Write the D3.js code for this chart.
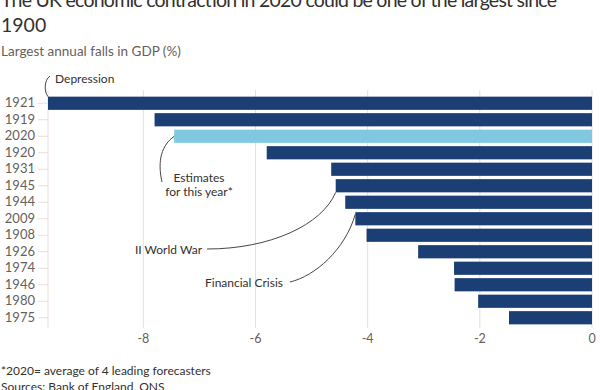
<!DOCTYPE html>
<html>
<head>
<meta charset="utf-8">
<script src="https://cdn.jsdelivr.net/npm/d3@7"></script>
<style>
html,body{margin:0;padding:0;background:#fff;}
svg{display:block;}
text{font-family:Lato,"Open Sans",sans-serif;}
</style>
</head>
<body>
<svg id="chart" width="600" height="390"></svg>
<script>
const years = ["1921","1919","2020","1920","1931","1945","1944","2009","1908","1926","1974","1946","1980","1975"];
const falls = [-9.7,-7.8,-7.45,-5.8,-4.65,-4.57,-4.4,-4.22,-4.02,-3.1,-2.46,-2.45,-2.03,-1.48];
const highlight = ["2020"];
const xTicks = [-8,-6,-4,-2,0];
const title = ["The UK economic contraction in 2020 could be one of the largest since","1900"];
const subtitle = "Largest annual falls in GDP (%)";
const notes = ["*2020= average of 4 leading forecasters","Sources: Bank of England, ONS"];

const svg = d3.select("#chart");
const x = d3.scaleLinear().domain([-9.7,0]).range([48,592]);
const y = d3.scaleBand().domain(years).range([95,326]).paddingInner(0.2).paddingOuter(0.1);

const grey = "#66605c", dark = "#33302e", grid = "#e9dfd6";

// title
const tt = svg.selectAll("text.title").data(title).join("text")
  .attr("class","title")
  .attr("x",1).attr("y",(d,i)=>7+i*25)
  .attr("font-size",19.5).attr("fill",dark).text(d=>d);
tt.filter((d,i)=>i===0).attr("textLength",556).attr("lengthAdjust","spacing");
svg.append("text").attr("x",1).attr("y",56).attr("font-size",13.5).attr("fill",grey).text(subtitle);

// grid
svg.append("g").selectAll("line").data(xTicks).join("line")
  .attr("x1",d=>x(d)).attr("x2",d=>x(d)).attr("y1",90).attr("y2",328)
  .attr("stroke",grid).attr("stroke-width",1);

// y axis
const ya = svg.append("g").attr("transform","translate(48,0)")
  .call(d3.axisLeft(y).tickSize(10).tickPadding(3));
ya.select(".domain").attr("stroke",grid).attr("d","M0,90V328");
ya.selectAll(".tick line").attr("stroke",grid);
ya.selectAll(".tick text").attr("fill",grey).attr("font-size",13).attr("font-family","Lato,'Open Sans',sans-serif");

// x axis labels
svg.append("g").selectAll("text").data(xTicks).join("text")
  .attr("x",d=>x(d)).attr("y",343).attr("text-anchor","middle")
  .attr("font-size",12.5).attr("fill",grey).text(d=>d);

// bars
svg.append("g").selectAll("rect").data(years).join("rect")
  .attr("x",(d,i)=>x(falls[i])).attr("y",d=>y(d))
  .attr("width",(d,i)=>x(0)-x(falls[i])).attr("height",y.bandwidth())
  .attr("fill",d=>highlight.includes(d)?"#80c7e0":"#1b3f75");

// annotations
const ann = svg.append("g");
const line = (d)=>ann.append("path").attr("d",d).attr("fill","none").attr("stroke","#4a4542").attr("stroke-width",1);
const val = c => falls[years.indexOf(c)];
const yc = c => y(c)+y.bandwidth()/2;

// Depression
ann.append("text").attr("x",55).attr("y",83).attr("font-size",12).attr("fill",dark).text("Depression");
line(`M50,76 C44,80 44,92 ${x(val("1921"))},${y("1921")}`);

// Estimates
ann.append("text").attr("x",199).attr("y",182).attr("text-anchor","middle").attr("font-size",12).attr("fill",dark).text("Estimates");
ann.append("text").attr("x",199).attr("y",196).attr("text-anchor","middle").attr("font-size",12).attr("fill",dark).text("for this year*");
line(`M162,182 C157,160 162,145 ${x(val("2020"))},${yc("2020")}`);

// II World War
ann.append("text").attr("x",202).attr("y",254).attr("text-anchor","end").attr("font-size",12).attr("fill",dark).text("II World War");
line(`M207,249 C270,249 322,225 ${x(val("1945"))},${y("1945")+y.bandwidth()}`);

// Financial Crisis
ann.append("text").attr("x",283).attr("y",287).attr("text-anchor","end").attr("font-size",12).attr("fill",dark).text("Financial Crisis");
line(`M290,282 C315,276 345,250 ${x(val("2009"))},${y("2009")+2}`);

// notes
svg.selectAll("text.note").data(notes).join("text")
  .attr("class","note")
  .attr("x",1).attr("y",(d,i)=>375+i*15.5)
  .attr("font-size",12).attr("fill",dark).text(d=>d);
</script>
</body>
</html>
